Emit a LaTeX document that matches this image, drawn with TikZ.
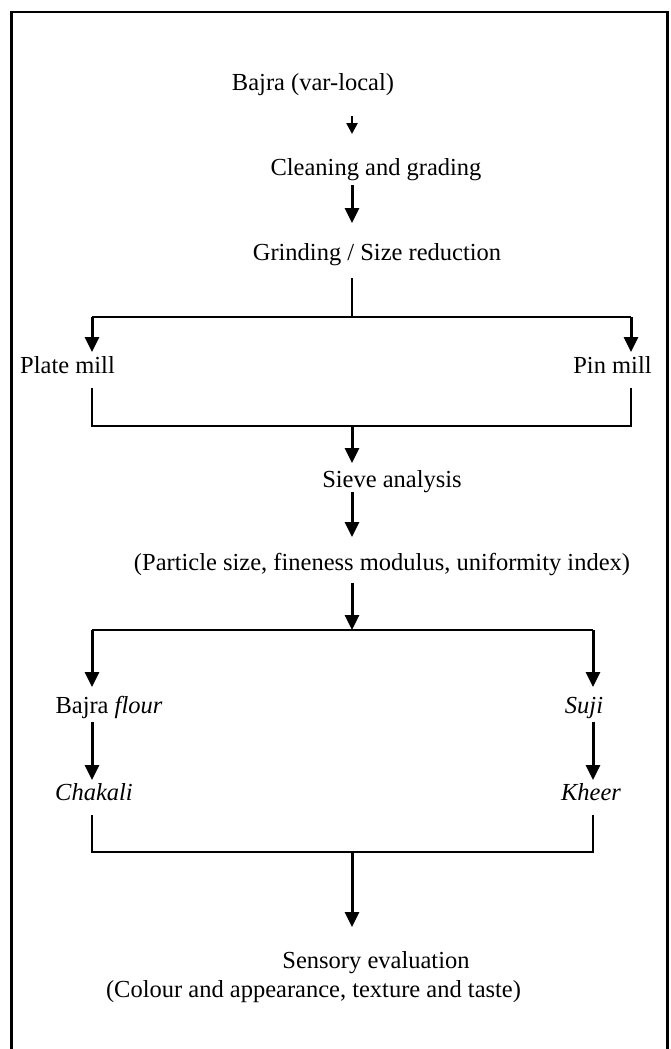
\documentclass[tikz,border=0pt]{standalone}
\usepackage{fontspec}
\setmainfont{Liberation Serif}
\usetikzlibrary{arrows.meta}
\begin{document}
\begin{tikzpicture}[x=1pt,y=-1pt,
  lbl/.style={inner sep=0pt,anchor=base,font=\fontsize{24.5}{28}\selectfont},
  thin line/.style={line width=1.4pt},
  heavy/.style={line width=3pt,-{Triangle[length=15pt,width=14pt]}},
  small/.style={line width=2.5pt,-{Triangle[length=11pt,width=11pt]}},
  frame/.style={line width=2.6pt}]
\useasboundingbox (0,0) rectangle (670,1049);
\draw[frame] (11.5,1060) -- (11.5,12) -- (667.5,12) -- (667.5,1060);
% nodes (anchored at the baseline)
\node[lbl] (bajra) at (313,90) {Bajra (var-local)};
\node[lbl] (clean) at (376,175) {Cleaning and grading};
\node[lbl] (grind) at (377,260) {Grinding / Size reduction};
\node[lbl] (plate) at (67.5,373) {Plate mill};
\node[lbl] (pin) at (612.5,373) {Pin mill};
\node[lbl] (sieve) at (392,487) {Sieve analysis};
\node[lbl] (part) at (382,570) {(Particle size, fineness modulus, uniformity index)};
\node[lbl] (flour) at (109,713) {Bajra \textit{flour}};
\node[lbl] (suji) at (584,713) {\textit{Suji}};
\node[lbl] (chak) at (94,800) {\textit{Chakali}};
\node[lbl] (kheer) at (591,800) {\textit{Kheer}};
\node[lbl] (sens) at (376,968) {Sensory evaluation};
\node[lbl] (colour) at (313.5,997) {(Colour and appearance, texture and taste)};
% connector end points
\coordinate (a1s) at (352,116); \coordinate (a1e) at (352,134);
\coordinate (a2s) at (352,185); \coordinate (a2e) at (352,223);
\coordinate (g1) at (352,278);  \coordinate (g2) at (352,317);
\coordinate (hL1) at (92,317);  \coordinate (hR1) at (631,317);
\coordinate (pL) at (92,352);   \coordinate (pR) at (631,352);
\coordinate (pL2) at (92,388);  \coordinate (pR2) at (631,388);
\coordinate (hL2) at (92,426);  \coordinate (hR2) at (631,426);
\coordinate (m2) at (352,426);  \coordinate (s1) at (352,463);
\coordinate (s2) at (352,492);  \coordinate (s3) at (352,537);
\coordinate (s4) at (352,583);  \coordinate (m3) at (352,630);
\coordinate (hL3) at (92,630);  \coordinate (hR3) at (593,630);
\coordinate (fL) at (92,687);   \coordinate (fR) at (593,687);
\coordinate (fL2) at (92,722);  \coordinate (fR2) at (593,722);
\coordinate (cL) at (92,780);   \coordinate (cR) at (593,780);
\coordinate (cL2) at (92,815);  \coordinate (cR2) at (593,815);
\coordinate (hL4) at (92,852);  \coordinate (hR4) at (593,852);
\coordinate (m4) at (352,852);  \coordinate (e1) at (352,927);
% connectors
\draw[small] (a1s) -- (a1e);
\draw[heavy] (a2s) -- (a2e);
\draw[thin line] (g1) -- (g2);
\draw[thin line] (hL1) -- (hR1);
\draw[heavy] (hL1) -- (pL);
\draw[heavy] (hR1) -- (pR);
\draw[thin line] (pL2) -- (hL2) -- (hR2) -- (pR2);
\draw[heavy] (m2) -- (s1);
\draw[heavy] (s2) -- (s3);
\draw[heavy] (s4) -- (m3);
\draw[thin line] (hL3) -- (hR3);
\draw[heavy] (hL3) -- (fL);
\draw[heavy] (hR3) -- (fR);
\draw[heavy] (fL2) -- (cL);
\draw[heavy] (fR2) -- (cR);
\draw[thin line] (cL2) -- (hL4) -- (hR4) -- (cR2);
\draw[heavy] (m4) -- (e1);
\end{tikzpicture}
\end{document}
